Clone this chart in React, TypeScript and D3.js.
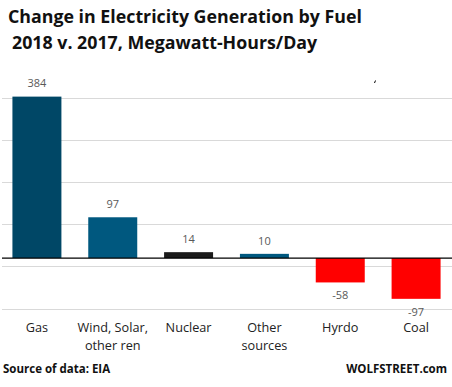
import React from "react";
import * as d3 from "d3";

const categories = ["Gas", "Wind, Solar,\nother ren", "Nuclear", "Other\nsources", "Hyrdo", "Coal"];
const values = [384, 97, 14, 10, -58, -97];
const barColors = ["#004766", "#00587f", "#1b1b1b", "#00587f", "#ff0000", "#ff0000"];
const gridValues = [-120, -20, 80, 180, 280, 380];

const W = 452;
const H = 387;
const font = "'Open Sans', 'Noto Sans', sans-serif";

const App = () => {
  const x = d3.scaleBand<number>()
    .domain(d3.range(categories.length))
    .range([-1, 454])
    .paddingInner(0.354)
    .paddingOuter(0.177);
  const y = d3.scaleLinear().domain([-120, 380]).range([308.5, 98.3]);
  const y0 = y(0);

  return (
    <svg width={W} height={H} style={{ position: "absolute", left: 0, top: 0, background: "#fff" }}>
      <text x={8} y={23} fontFamily={font} fontWeight="bold" fontSize={17.8} fill="#111">
        Change in Electricity Generation by Fuel
      </text>
      <text x={12} y={49} fontFamily={font} fontWeight="bold" fontSize={17.8} fill="#111">
        2018 v. 2017, Megawatt-Hours/Day
      </text>
      <path d="M375.5,80.5 L374.5,83" stroke="#000" strokeWidth={1} />

      {gridValues.map(v => (
        <line key={v} x1={2} x2={452} y1={Math.round(y(v)) + 0.5} y2={Math.round(y(v)) + 0.5}
          stroke="#d9d9d9" strokeWidth={1} />
      ))}

      {values.map((v, i) => {
        const top = y(Math.max(0, v));
        const h = Math.abs(y(v) - y0);
        const cx = x(i)! + x.bandwidth() / 2;
        return (
          <g key={i}>
            <rect x={x(i)} y={top} width={x.bandwidth()} height={h} fill={barColors[i]} />
            <text x={cx} y={v >= 0 ? y(v) - 13 : y(v) + 13} dy="0.35em" textAnchor="middle"
              fontFamily={font} fontSize={11} fill="#595959">
              {v}
            </text>
          </g>
        );
      })}

      <line x1={2} x2={452} y1={y0} y2={y0} stroke="#000" strokeWidth={1.3} />

      {categories.map((c, i) => {
        const cx = x(i)! + x.bandwidth() / 2;
        return (
          <text key={i} textAnchor="middle" fontFamily={font} fontSize={12.7} fill="#222">
            {c.split("\n").map((line, j) => (
              <tspan key={j} x={cx} y={332 + j * 18}>{line}</tspan>
            ))}
          </text>
        );
      })}

      <text x={3} y={373} fontFamily={font} fontWeight="bold" fontSize={11.5} fill="#111">
        Source of data: EIA
      </text>
      <text x={447} y={373} textAnchor="end" fontFamily={font} fontWeight="bold" fontSize={11.5} fill="#111">
        WOLFSTREET.com
      </text>
    </svg>
  );
};

export default App;
